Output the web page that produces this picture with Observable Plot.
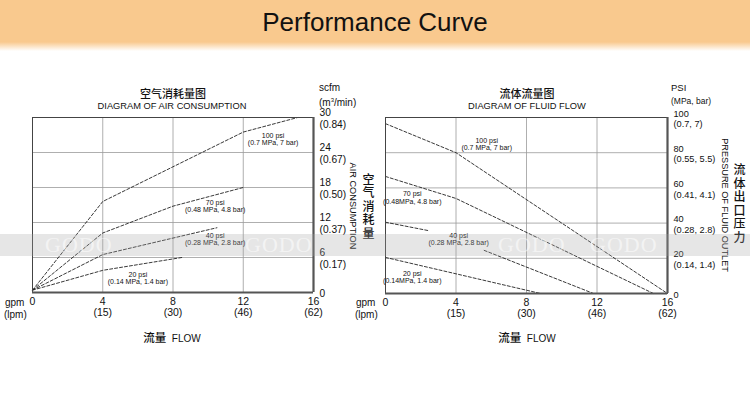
<!DOCTYPE html>
<html>
<head>
<meta charset="utf-8">
<script src="https://cdn.jsdelivr.net/npm/d3@7"></script>
<script src="https://cdn.jsdelivr.net/npm/@observablehq/plot@0.6"></script>
<style>
  html, body { margin: 0; padding: 0; background: #fff; }
  #page { position: relative; width: 750px; height: 400px; overflow: hidden; font-family: "Liberation Sans", Arial, sans-serif; color: #111; }
  #header { position: absolute; left: 0; top: 0; width: 750px; height: 52px;
    background: linear-gradient(to bottom, #f9c98e 0px, #f9c98e 42px, #ffffff 51px); }
  #header div { position: absolute; left: 0; width: 750px; top: 7px; text-align: center; font-size: 26px; color: #111; }
  .abs { position: absolute; white-space: nowrap; }
  .c { transform: translate(-50%, -50%); text-align: center; }
  .l { transform: translate(0, -50%); }
  .cjk { font-family: "Noto Sans CJK SC", sans-serif; font-weight: 500; }
  .vert { writing-mode: vertical-rl; }
  .chart { position: absolute; top: 60px; }
  #wm { position: absolute; left: 0; top: 234px; width: 750px; height: 22px; background: rgba(165,165,165,0.28); }
  #wm span { position: absolute; top: -2px; font-family: "Liberation Serif", serif; font-size: 22px; color: rgba(255,255,255,0.55); letter-spacing: 1px; }
</style>
</head>
<body>
<div id="page">
  <div id="header"><div>Performance Curve</div></div>
</div>
<script>
// ---------- data ----------
const flowTicks = [0, 4, 8, 12, 16];
const flowLpm = ["", "(15)", "(30)", "(46)", "(62)"];

const airTicks = [0, 6, 12, 18, 24, 30];
const airSub = ["", "(0.17)", "(0.37)", "(0.50)", "(0.67)", "(0.84)"];

const fluidTicks = [0, 20, 40, 60, 80, 100];
const fluidSub = ["", "(0.14, 1.4)", "(0.28, 2.8)", "(0.41, 4.1)", "(0.55, 5.5)", "(0.7, 7)"];

// air consumption curves [gpm, scfm]
const air100 = [[0, 0.4], [4, 15.6], [12, 27.5], [15.1, 30]];
const air70  = [[0, 0.4], [4, 10.2], [8, 14.8], [12, 18]];
const air40  = [[0, 0.4], [4, 6.5], [10.5, 11.1]];
const air20  = [[0, 0.4], [4, 3.8], [8.5, 6]];

// fluid flow curves [gpm, psi]
const fluid100 = [[0, 96.5], [4, 80], [16, 0]];
const fluid70  = [[0, 66.5], [4, 54], [15.2, 0]];
const fluid40a = [[0, 40.5], [2.4, 35.8]];
const fluid40b = [[5.6, 24.5], [11.8, 0]];
const fluid20  = [[0, 20.5], [8.8, 0]];

// curve labels
const airLabelText = ["100 psi\n(0.7 MPa, 7 bar)", "70 psi\n(0.48 MPa, 4.8 bar)", "40 psi\n(0.28 MPa, 2.8 bar)", "20 psi\n(0.14 MPa, 1.4 bar)"];
const airLabelX = [13.7, 10.4, 10.4, 6.0];
const airLabelY = [26.3, 14.8, 9.1, 2.5];

const fluidLabelText = ["100 psi\n(0.7 MPa, 7 bar)", "70 psi\n(0.48MPa, 4.8 bar)", "40 psi\n(0.28 MPa, 2.8 bar)", "20 psi\n(0.14MPa, 1.4 bar)"];
const fluidLabelX = [5.74, 1.52, 4.15, 1.52];
const fluidLabelY = [85, 54.4, 31, 9.3];

// ---------- helpers ----------
const page = document.getElementById("page");
function addDiv(html, cls, style) {
  const d = document.createElement("div");
  d.className = "abs " + (cls || "");
  d.innerHTML = html;
  Object.assign(d.style, style);
  page.appendChild(d);
  return d;
}
const fmtX = d => { const i = flowTicks.indexOf(d); return i <= 0 ? String(d) : d + "\n" + flowLpm[i]; };
const mkFmtY = (ticks, sub) => d => { const i = ticks.indexOf(d); return i <= 0 ? String(d) : d + "\n" + sub[i]; };
const dash = {stroke: "#222", strokeWidth: 0.9, strokeDasharray: "3,2"};
const labelTable = (t, x, y) => t.map((s, i) => ({text: s, x: x[i], y: y[i]}));

function chart(opts) {
  const {yDomain, yTicks, ySub, curves, labels, mLeft, mRight, mBottom, yFont} = opts;
  return Plot.plot({
    width: 375, height: 300,
    marginLeft: mLeft, marginRight: mRight, marginTop: 57, marginBottom: mBottom,
    x: {domain: [0, 16]},
    y: {domain: yDomain},
    style: {fontFamily: "'Liberation Sans', Arial, sans-serif", fontSize: "10px", color: "#111", background: "transparent", overflow: "visible"},
    marks: [
      Plot.gridX(flowTicks, {stroke: "#9a9a9a", strokeOpacity: 1, strokeWidth: 0.8}),
      Plot.gridY(yTicks, {stroke: "#9a9a9a", strokeOpacity: 1, strokeWidth: 0.8}),
      ...curves.map(c => Plot.line(c, {x: d => d[0], y: d => d[1], ...dash})),
      Plot.ruleX([0], {stroke: "#444", strokeWidth: 1}),
      Plot.ruleY([yDomain[1]], {stroke: "#444", strokeWidth: 1}),
      Plot.ruleX([16], {stroke: "#555", strokeWidth: 2.2}),
      Plot.ruleY([0], {stroke: "#555", strokeWidth: 2.2}),
      Plot.axisX(flowTicks, {anchor: "bottom", tickSize: 0, tickPadding: 4, tickFormat: fmtX, label: null, lineHeight: 1.1, fontSize: 10.5}),
      Plot.axisY(yTicks, {anchor: "right", tickSize: 0, tickPadding: 6, tickFormat: mkFmtY(yTicks, ySub), label: null, lineHeight: 1.15, dy: 1, fontSize: yFont}),
      Plot.text(labels, {x: "x", y: "y", text: "text", fontSize: 7, lineHeight: 1.05, fill: "#111"})
    ]
  });
}

// ---------- left chart ----------
const left = chart({
  yDomain: [0, 30], yTicks: airTicks, ySub: airSub,
  curves: [air100, air70, air40, air20],
  labels: labelTable(airLabelText, airLabelX, airLabelY),
  mLeft: 32, mRight: 62, mBottom: 68, yFont: 10.2
});
left.classList.add("chart"); left.style.left = "0px";
page.appendChild(left);

// ---------- right chart ----------
const right = chart({
  yDomain: [0, 100], yTicks: fluidTicks, ySub: fluidSub,
  curves: [fluid100, fluid70, fluid40a, fluid40b, fluid20],
  labels: labelTable(fluidLabelText, fluidLabelX, fluidLabelY),
  mLeft: 10, mRight: 83, mBottom: 67, yFont: 9.2
});
right.classList.add("chart"); right.style.left = "375px";
page.appendChild(right);

// ---------- titles & axis labels ----------
addDiv("空气消耗量图", "c cjk", {left: "173px", top: "93px", fontSize: "11px"});
addDiv("DIAGRAM OF AIR CONSUMPTION", "c", {left: "172px", top: "105.5px", fontSize: "9.3px"});
addDiv("流体流量图", "c cjk", {left: "527px", top: "93px", fontSize: "11px"});
addDiv("DIAGRAM OF FLUID FLOW", "c", {left: "527px", top: "106px", fontSize: "9.3px"});

addDiv("scfm<br>(m<sup style='font-size:6px'>3</sup>/min)", "", {left: "319px", top: "82px", fontSize: "10px", lineHeight: "12px"});
addDiv("PSI<br><span style='font-size:8.5px'>(MPa, bar)</span>", "", {left: "671px", top: "81px", fontSize: "9.5px", lineHeight: "13px"});

addDiv("AIR CONSUMPTION", "c vert", {left: "353px", top: "206px", fontSize: "9.2px"});
addDiv("空气消耗量", "c vert cjk", {left: "368px", top: "207px", fontSize: "12px", lineHeight: "12px", letterSpacing: "1.5px"});
addDiv("PRESSURE OF FLUID OUTLET", "c vert", {left: "725px", top: "205px", fontSize: "9.2px"});
addDiv("流体出口压力", "c vert cjk", {left: "739px", top: "204px", fontSize: "12px", lineHeight: "12px", letterSpacing: "1.5px"});

addDiv("gpm", "l", {left: "5px", top: "303px", fontSize: "10px", lineHeight: "10px"});
addDiv("(lpm)", "l", {left: "4px", top: "314.5px", fontSize: "10px", lineHeight: "10px"});
addDiv("gpm", "l", {left: "356px", top: "303px", fontSize: "10px", lineHeight: "10px"});
addDiv("(lpm)", "l", {left: "355px", top: "314.5px", fontSize: "10px", lineHeight: "10px"});

addDiv("<span class='cjk' style='font-size:11.5px'>流量</span>&nbsp; FLOW", "c", {left: "172px", top: "337px", fontSize: "10px"});
addDiv("<span class='cjk' style='font-size:11.5px'>流量</span>&nbsp; FLOW", "c", {left: "527px", top: "337px", fontSize: "10px"});

// ---------- watermark band ----------
const wm = document.createElement("div"); wm.id = "wm";
[45, 245, 498, 590].forEach(x => { const s = document.createElement("span"); s.textContent = "GODO"; s.style.left = x + "px"; wm.appendChild(s); });
page.appendChild(wm);
</script>
</body>
</html>
